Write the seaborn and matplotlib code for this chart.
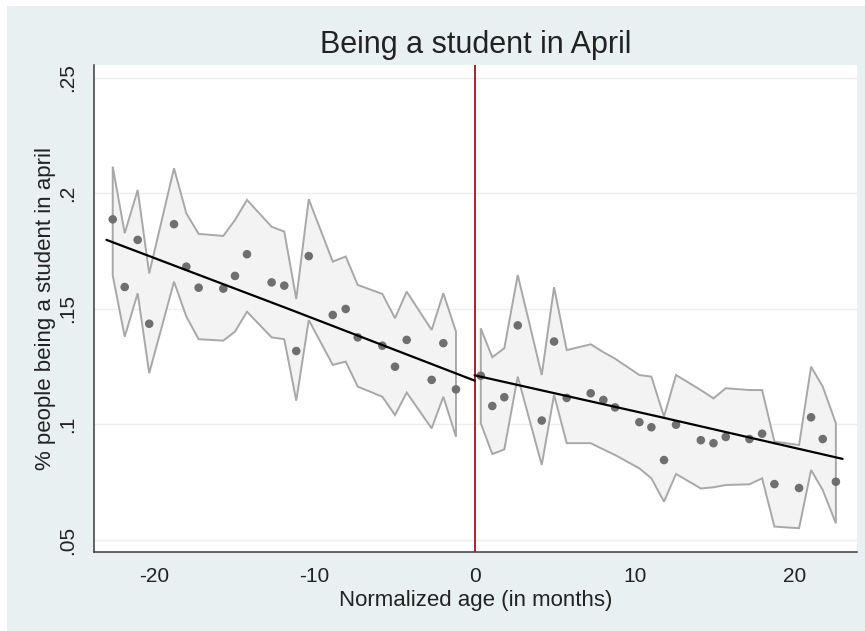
import numpy as np
import pandas as pd
import matplotlib
matplotlib.use("Agg")
import matplotlib.pyplot as plt
from matplotlib.patches import Rectangle
import seaborn as sns

# Binned shares below the cutoff (normalized age < 0)
left_x = [-22.61, -21.86, -21.05, -20.33, -18.78, -18.01, -17.24, -15.70, -14.97,
          -14.22, -12.68, -11.89, -11.14, -10.36, -8.86, -8.05, -7.30, -5.76,
          -4.97, -4.24, -2.68, -1.95, -1.16]
left_y = [0.1888, 0.1595, 0.1799, 0.1436, 0.1867, 0.1683, 0.1592, 0.1588, 0.1643,
          0.1737, 0.1615, 0.1601, 0.1318, 0.1729, 0.1474, 0.1500, 0.1377, 0.1341,
          0.1250, 0.1366, 0.1193, 0.1352, 0.1152]
left_hi = [0.2116, 0.1828, 0.2015, 0.1654, 0.2109, 0.1914, 0.1825, 0.1816, 0.1885,
           0.1972, 0.1856, 0.1835, 0.1543, 0.1975, 0.1705, 0.1727, 0.1604, 0.1565,
           0.1460, 0.1575, 0.1409, 0.1568, 0.1402]
left_lo = [0.1645, 0.1380, 0.1568, 0.1222, 0.1618, 0.1467, 0.1369, 0.1363, 0.1402,
           0.1488, 0.1377, 0.1369, 0.1103, 0.1452, 0.1258, 0.1272, 0.1164, 0.1120,
           0.1041, 0.1138, 0.0983, 0.1120, 0.0947]

# Binned shares above the cutoff (normalized age >= 0)
right_x = [0.39, 1.11, 1.86, 2.70, 4.20, 4.97, 5.76, 7.26, 8.05, 8.78, 10.30, 11.05,
           11.84, 12.59, 14.14, 14.93, 15.70, 17.18, 17.97, 18.74, 20.28, 21.03,
           21.76, 22.58]
right_y = [0.1211, 0.1080, 0.1118, 0.1429, 0.1017, 0.1359, 0.1115, 0.1135, 0.1106,
           0.1074, 0.1010, 0.0988, 0.0846, 0.0999, 0.0932, 0.0919, 0.0946, 0.0937,
           0.0960, 0.0742, 0.0725, 0.1031, 0.0937, 0.0752]
right_hi = [0.1416, 0.1291, 0.1330, 0.1647, 0.1214, 0.1594, 0.1322, 0.1347, 0.1313,
            0.1285, 0.1214, 0.1207, 0.1034, 0.1214, 0.1149, 0.1113, 0.1157, 0.1149,
            0.1149, 0.0926, 0.0911, 0.1250, 0.1164, 0.1005]
right_lo = [0.1005, 0.0872, 0.0892, 0.1207, 0.0825, 0.1128, 0.0919, 0.0919, 0.0892,
            0.0868, 0.0810, 0.0767, 0.0666, 0.0786, 0.0723, 0.0728, 0.0738, 0.0741,
            0.0767, 0.0558, 0.0551, 0.0803, 0.0716, 0.0572]

# Fitted trends on each side of the cutoff
fit_left_x = [-23.0, -11.5, 0.0]
fit_left_y = [0.1799, 0.1497, 0.1190]
fit_right_x = [0.0, 11.5, 23.0]
fit_right_y = [0.1213, 0.1034, 0.0851]

x_ticks = [-20, -10, 0, 10, 20]
x_tick_labels = ["-20", "-10", "0", "10", "20"]
y_ticks = [0.05, 0.10, 0.15, 0.20, 0.25]
y_tick_labels = [".05", ".1", ".15", ".2", ".25"]

BG = "#E9F0F2"
sns.set_style("white")
plt.rcParams["font.family"] = ["Liberation Sans", "DejaVu Sans"]

fig = plt.figure(figsize=(8.65, 6.31), dpi=100, facecolor="white")
fig.patches.append(Rectangle((7 / 865, 0), 1 - 7 / 865, 1 - 6 / 631,
                             transform=fig.transFigure, facecolor=BG,
                             edgecolor="none", zorder=-10))
ax = fig.add_axes([94 / 865, 1 - 552 / 631, 763 / 865, 487 / 631])
ax.set_facecolor("white")

bins = pd.concat([
    pd.DataFrame({"age": left_x, "share": left_y, "hi": left_hi, "lo": left_lo, "side": "below"}),
    pd.DataFrame({"age": right_x, "share": right_y, "hi": right_hi, "lo": right_lo, "side": "above"}),
], ignore_index=True)
fits = pd.concat([
    pd.DataFrame({"age": fit_left_x, "share": fit_left_y, "side": "below"}),
    pd.DataFrame({"age": fit_right_x, "share": fit_right_y, "side": "above"}),
], ignore_index=True)

# confidence bands
for side, grp in bins.groupby("side", sort=False):
    px = np.concatenate([grp["age"].values, grp["age"].values[::-1]])
    py = np.concatenate([grp["hi"].values, grp["lo"].values[::-1]])
    ax.fill(px, py, facecolor="#F3F3F3", edgecolor="#A8A8A8", linewidth=1.4, zorder=2)

ax.axvline(0, color="#A3262C", linewidth=1.4, zorder=3)

sns.scatterplot(data=bins, x="age", y="share", color="#6F6F6F", s=38,
                edgecolor="none", linewidth=0, ax=ax, zorder=4, legend=False)
sns.lineplot(data=fits, x="age", y="share", units="side", estimator=None,
             color="black", linewidth=1.6, ax=ax, zorder=5, legend=False)

ax.set_xlim(-23.78, 23.9)
ax.set_ylim(0.0448, 0.2556)
ax.set_xticks(x_ticks)
ax.set_xticklabels(x_tick_labels)
ax.set_yticks(y_ticks)
ax.set_yticklabels(y_tick_labels, rotation=90, va="center")
ax.yaxis.grid(True, color="#EDEDED", linewidth=1.0)
ax.xaxis.grid(False)
ax.set_axisbelow(True)

for s in ["top", "right"]:
    ax.spines[s].set_visible(False)
for s in ["left", "bottom"]:
    ax.spines[s].set_color("#3A3A3A")
    ax.spines[s].set_linewidth(1.1)

ax.tick_params(axis="both", direction="out", length=6, width=1.0, color="#3A3A3A",
               labelsize=15, labelcolor="#222222", pad=5)
ax.tick_params(axis="y", pad=6)

ax.set_xlabel("Normalized age (in months)", fontsize=16, color="#222222", labelpad=3)
ax.set_ylabel("% people being a student in april", fontsize=16, color="#222222", labelpad=2)
ax.set_title("Being a student in April", fontsize=22, color="#222222", pad=9)

fig.savefig("out.png", dpi=100, facecolor=fig.get_facecolor())
